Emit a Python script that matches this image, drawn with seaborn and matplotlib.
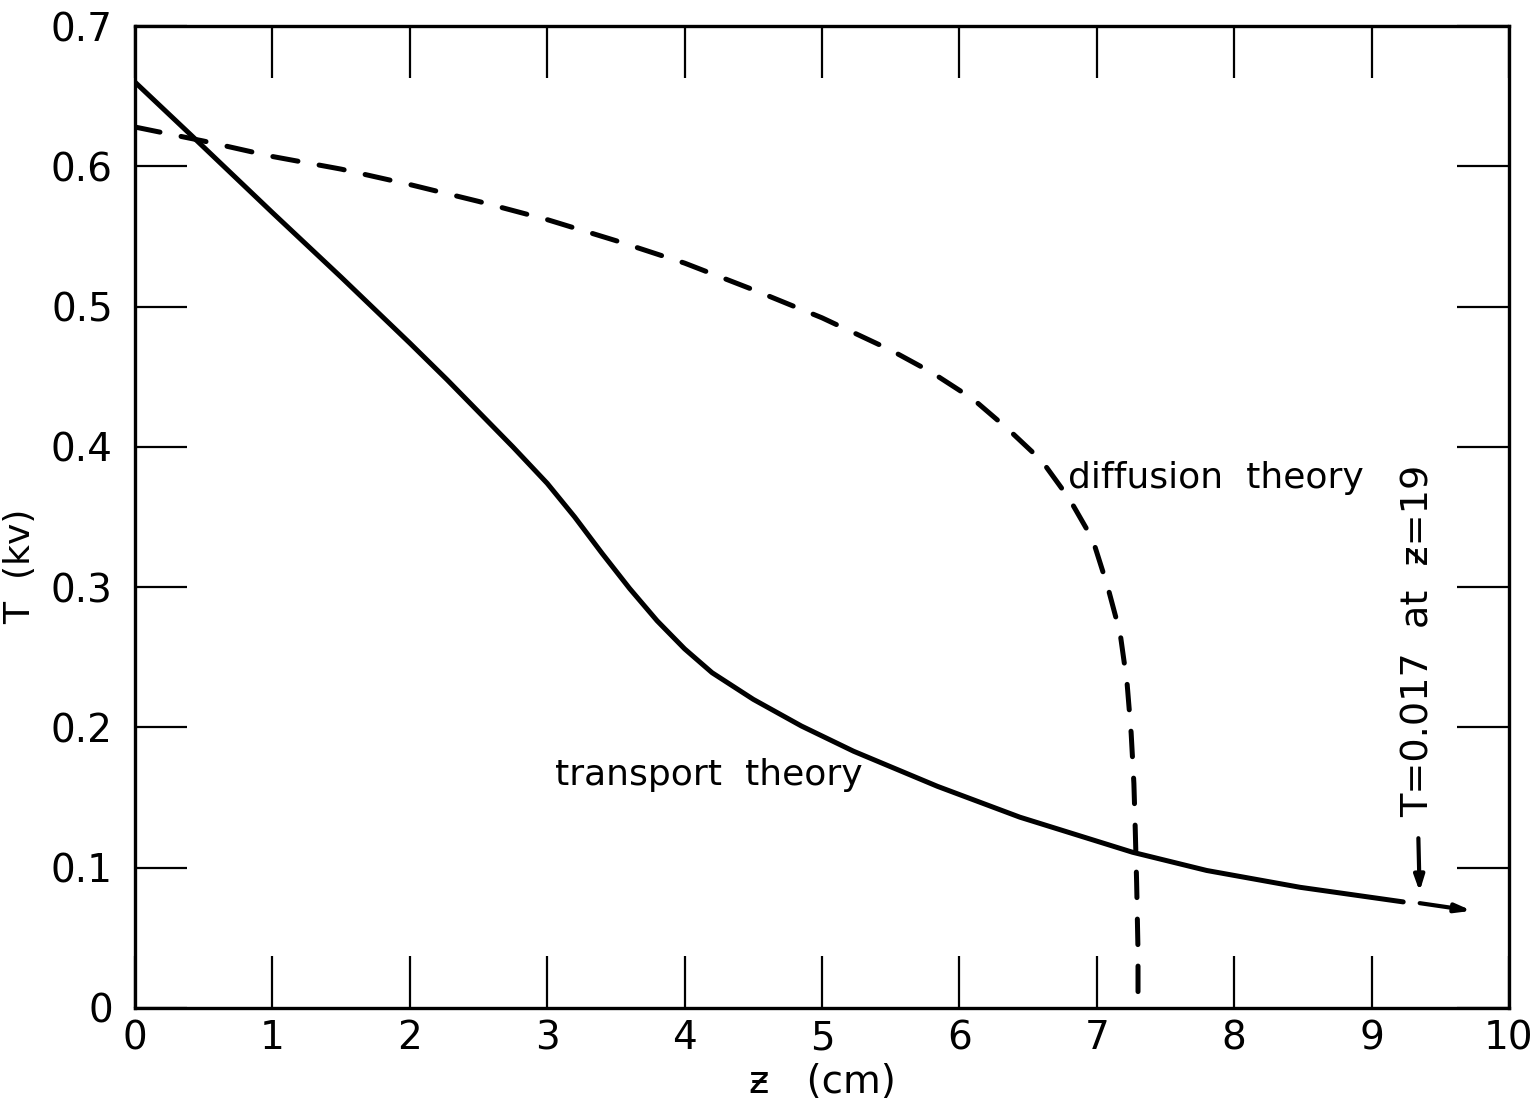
import matplotlib
matplotlib.use("Agg")
import matplotlib.pyplot as plt
import seaborn as sns
import pandas as pd

# values
transport_z = [0.0, 0.4, 1.0, 1.5, 2.0, 2.27, 2.5, 2.75, 3.0, 3.2, 3.4, 3.6, 3.8, 4.0,
               4.2, 4.5, 4.85, 5.23, 5.84, 6.44, 7.26, 7.8, 8.48, 9.23]
transport_T = [0.660, 0.623, 0.567, 0.521, 0.474, 0.448, 0.425, 0.400, 0.374, 0.350,
               0.324, 0.299, 0.276, 0.256, 0.239, 0.220, 0.201, 0.183, 0.158, 0.136,
               0.111, 0.098, 0.086, 0.0756]

diffusion_z = [0.0, 0.5, 1.0, 1.5, 2.0, 2.5, 3.0, 3.5, 4.0, 4.5, 5.0, 5.5, 5.8, 6.1,
               6.35, 6.6, 6.8, 6.97, 7.08, 7.17, 7.22, 7.25, 7.27, 7.28, 7.29, 7.30, 7.30]
diffusion_T = [0.628, 0.618, 0.607, 0.598, 0.587, 0.575, 0.562, 0.547, 0.531, 0.512,
               0.492, 0.469, 0.453, 0.434, 0.413, 0.390, 0.363, 0.334, 0.300, 0.267,
               0.232, 0.196, 0.160, 0.127, 0.089, 0.040, 0.0]

x_ticks = [0, 1, 2, 3, 4, 5, 6, 7, 8, 9, 10]
y_ticks = [0, 0.1, 0.2, 0.3, 0.4, 0.5, 0.6, 0.7]
y_labels = ["0", "0.1", "0.2", "0.3", "0.4", "0.5", "0.6", "0.7"]

sns.set_style("ticks")
plt.rcParams['font.family'] = ['DejaVu Sans']
plt.rcParams['text.color'] = 'black'
plt.rcParams['axes.labelcolor'] = 'black'
plt.rcParams['xtick.color'] = 'black'
plt.rcParams['ytick.color'] = 'black'

transport = pd.DataFrame({"z": transport_z, "T": transport_T})
diffusion = pd.DataFrame({"z": diffusion_z, "T": diffusion_T})

fig = plt.figure(figsize=(15.34, 11.08), dpi=100)
ax = fig.add_axes([0.088, 0.0903, 0.8957, 0.8862])

sns.lineplot(data=transport, x="z", y="T", ax=ax, color="black", lw=3.6,
             estimator=None, sort=False)
sns.lineplot(data=diffusion, x="z", y="T", ax=ax, color="black", lw=3.6,
             estimator=None, sort=False, linestyle=(0, (5.1, 4.3)),
             dash_capstyle="round")

# continuation arrow of the transport curve
ax.annotate("", xy=(9.75, 0.069), xytext=(9.33, 0.075),
            arrowprops=dict(arrowstyle="-|>,head_length=0.9,head_width=0.25",
                            color="black", lw=3.0))
# pointer from the note
ax.annotate("", xy=(9.35, 0.081), xytext=(9.34, 0.123),
            arrowprops=dict(arrowstyle="-|>,head_length=0.9,head_width=0.3",
                            color="black", lw=3.0))

ax.text(6.79, 0.371, "diffusion  theory", fontsize=26, ha="left", va="baseline")
ax.text(3.06, 0.159, "transport  theory", fontsize=26, ha="left", va="baseline")
ax.text(9.34, 0.262, "T=0.017  at  \u01b6=19", fontsize=27.5, rotation=90,
        ha="center", va="center")

ax.set_xlim(0, 10)
ax.set_ylim(0, 0.7)
ax.set_xticks(x_ticks)
ax.set_xticklabels([str(v) for v in x_ticks])
ax.set_yticks(y_ticks)
ax.set_yticklabels(y_labels)
ax.tick_params(direction="in", top=True, right=True, length=37.5, width=1.6,
               labelsize=28, color="black", labelcolor="black")
ax.tick_params(axis="x", pad=8)
ax.tick_params(axis="y", pad=16)
for s in ax.spines.values():
    s.set_linewidth(2.4)
    s.set_color("black")

ax.set_xlabel("\u01b6   (cm)", fontsize=28, va="top")
ax.set_ylabel("T  (kv)", fontsize=26)
ax.xaxis.set_label_coords(0.5, -0.056)
ax.yaxis.set_label_coords(-0.071, 0.45)

fig.savefig("out.png", dpi=100, facecolor="white")
